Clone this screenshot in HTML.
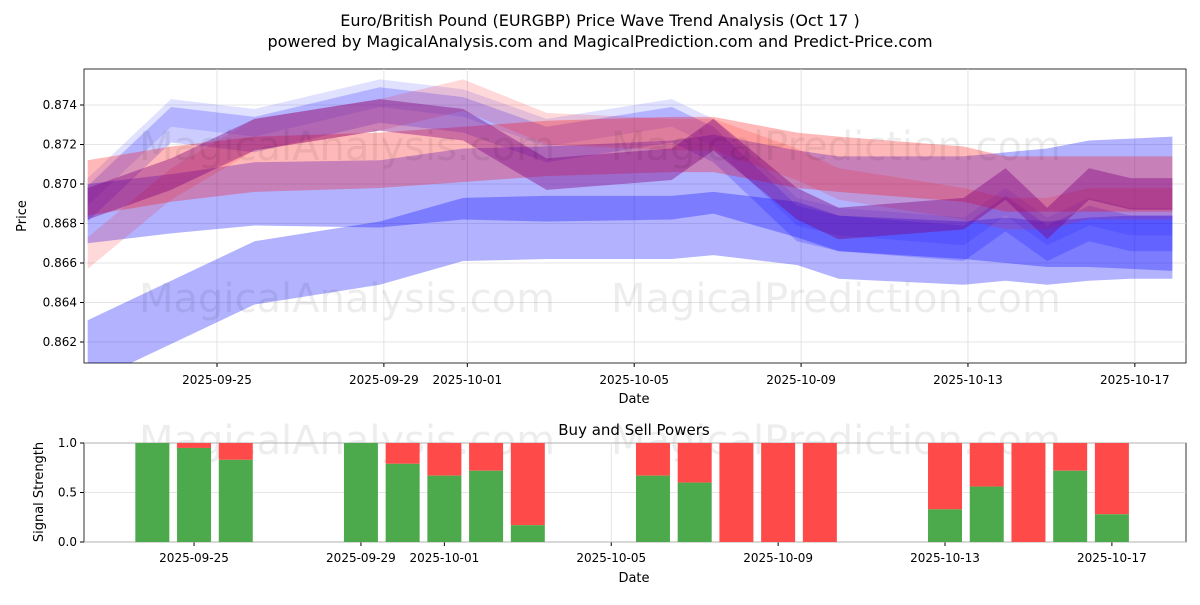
<!DOCTYPE html>
<html><head><meta charset="utf-8"><style>
body{margin:0;background:#fff;font-family:"Liberation Sans","DejaVu Sans",sans-serif}
svg text{font-family:"DejaVu Sans","Liberation Sans",sans-serif}
</style></head><body>
<svg id="c" width="1200" height="600" xmlns="http://www.w3.org/2000/svg">
<rect width="1200" height="600" fill="#fff"/>
<text x="600" y="26" text-anchor="middle" font-size="16">Euro/British Pound (EURGBP) Price Wave Trend Analysis (Oct 17 )</text>
<text x="600" y="47" text-anchor="middle" font-size="16">powered by MagicalAnalysis.com and MagicalPrediction.com and Predict-Price.com</text>
<g id="top"></g><g id="bot"></g>
</svg>
<script>
const NS="http://www.w3.org/2000/svg";
// ---- data ----
const bandDates=["2025-09-22","2025-09-24","2025-09-26","2025-09-29","2025-10-01","2025-10-03","2025-10-06","2025-10-07","2025-10-09","2025-10-10","2025-10-13","2025-10-14","2025-10-15","2025-10-16","2025-10-17","2025-10-18"];
const bandLow=[0.8615,0.8635,0.8655,0.8665,0.8677,0.8678,0.8678,0.868,0.8675,0.8668,0.8665,0.8667,0.8665,0.8667,0.8668,0.8668];
const bandWide=[0.8685,0.869,0.8695,0.8695,0.870,0.870,0.8702,0.8705,0.8695,0.869,0.8688,0.8688,0.8688,0.869,0.869,0.869];
const bandWideHalf=[0.0015,0.0015,0.0016,0.0017,0.0018,0.0019,0.002,0.002,0.0022,0.0024,0.0026,0.0028,0.003,0.0032,0.0033,0.0034];
const bandBlueWave=[0.869,0.873,0.8725,0.874,0.8735,0.872,0.873,0.872,0.868,0.8675,0.867,0.8685,0.867,0.868,0.8675,0.8675];
const bandRedBroad=[0.8698,0.8705,0.871,0.8712,0.8715,0.8718,0.872,0.872,0.8712,0.871,0.8705,0.870,0.870,0.870,0.870,0.870];
const bandRedWave=[0.8665,0.870,0.8725,0.8735,0.8745,0.8728,0.8725,0.8725,0.871,0.870,0.869,0.8685,0.8685,0.869,0.869,0.869];
const bandPurple=[0.869,0.8705,0.8725,0.8735,0.873,0.8705,0.871,0.8725,0.869,0.868,0.8685,0.870,0.868,0.870,0.8695,0.8695];
const barDates=["2025-09-24","2025-09-25","2025-09-26","2025-09-29","2025-09-30","2025-10-01","2025-10-02","2025-10-03","2025-10-06","2025-10-07","2025-10-08","2025-10-09","2025-10-10","2025-10-13","2025-10-14","2025-10-15","2025-10-16","2025-10-17"];
const buyVals=[1.0,0.95,0.83,1.0,0.79,0.67,0.72,0.17,0.67,0.6,0,0,0,0.33,0.56,0,0.72,0.28];
const xTicks=["2025-09-25","2025-09-29","2025-10-01","2025-10-05","2025-10-09","2025-10-13","2025-10-17"];
const yTicks=[0.862,0.864,0.866,0.868,0.870,0.872,0.874];
const sTicks=[0.0,0.5,1.0];
// ---- scales ----
const d0=Date.parse("2025-09-25");
const DAY=41.72;
const X=d=>217+(Date.parse(d)-d0)/864e5*DAY;
const XB=d=>X(d)-0.1*DAY;
const XBar=d=>X(d)-0.55*DAY;
const Y=v=>342-(v-0.862)/0.002*39.5;
const S=v=>542-v*99;
function el(t,a,p,name){const e=document.createElementNS(NS,t);for(const k in a)e.setAttribute(k,a[k]);


p.appendChild(e);return e;}
const topG=document.getElementById('top'),botG=document.getElementById('bot');
el('rect',{x:84,y:69,width:1102,height:294,fill:'none',stroke:'#000','stroke-width':0.8},topG,'price-axes');
el('rect',{x:84,y:443,width:1102,height:99,fill:'none',stroke:'#000','stroke-width':0.8},botG,'signal-axes');
const clip=el('clipPath',{id:'cp'},topG,'clip');el('rect',{x:84,y:69,width:1102,height:294},clip,'clip-rect');
const bg=el('g',{'clip-path':'url(#cp)'},topG,'bands');
xTicks.forEach(d=>{el('line',{x1:X(d),x2:X(d),y1:69,y2:363,stroke:'#ddd','stroke-width':0.8},bg,'grid-x');
el('line',{x1:XBar(d),x2:XBar(d),y1:443,y2:542,stroke:'#ddd','stroke-width':0.8},botG,'grid-x');});
yTicks.forEach(v=>{el('line',{x1:84,x2:1186,y1:Y(v),y2:Y(v),stroke:'#ddd','stroke-width':0.8},bg,'grid-y');});
function band(c,hw,col,op,name){let up=[],lo=[];bandDates.forEach((d,i)=>{const h=Array.isArray(hw)?hw[i]:hw;up.push(XB(d)+','+Y(c[i]+h));lo.unshift(XB(d)+','+Y(c[i]-h));});
el('polygon',{points:up.concat(lo).join(' '),fill:col,'fill-opacity':op},bg,name);}
band(bandLow,0.0016,'#0000ff',0.3,'band-blue-low');
band(bandWide,bandWideHalf,'#0000ff',0.3,'band-blue-wide');
band(bandBlueWave,0.0009,'#0000ff',0.2,'band-blue-wave');
band(bandBlueWave.map(v=>v+0.0006),0.0007,'#0000ff',0.12,'band-blue-wave-2');
band(bandRedBroad,0.0014,'#ff0000',0.28,'band-red-broad');
band(bandRedWave,0.0008,'#ff0000',0.15,'band-red-wave');
band(bandPurple,0.0008,'#ff0000',0.25,'band-purple-red');
band(bandPurple,0.0008,'#0000ff',0.2,'band-purple-blue');
[[347,160],[836,160],[347,312],[836,312],[347,454],[836,454]].forEach(p=>{const t=el('text',{x:p[0],y:p[1],'text-anchor':'middle','font-size':40,fill:'#000','fill-opacity':0.07},topG,'watermark');t.textContent=p[0]<600?'MagicalAnalysis.com':'MagicalPrediction.com';});
xTicks.forEach(d=>{el('line',{x1:X(d),x2:X(d),y1:363,y2:367,stroke:'#000'},topG,'x-tick');const t=el('text',{x:X(d),y:384,'text-anchor':'middle','font-size':12},topG,'x-tick-label');t.textContent=d;
el('line',{x1:XBar(d),x2:XBar(d),y1:542,y2:546,stroke:'#000'},botG,'x-tick');const t2=el('text',{x:XBar(d),y:562,'text-anchor':'middle','font-size':12},botG,'x-tick-label');t2.textContent=d;});
yTicks.forEach(v=>{el('line',{x1:80,x2:84,y1:Y(v),y2:Y(v),stroke:'#000'},topG,'y-tick');const t=el('text',{x:77,y:Y(v)+4,'text-anchor':'end','font-size':12},topG,'y-tick-label');t.textContent=v.toFixed(3);});
sTicks.forEach(v=>{el('line',{x1:80,x2:84,y1:S(v),y2:S(v),stroke:'#000'},botG,'y-tick');const t=el('text',{x:77,y:S(v)+4,'text-anchor':'end','font-size':12},botG,'y-tick-label');t.textContent=v.toFixed(1);
el('line',{x1:84,x2:1186,y1:S(v),y2:S(v),stroke:'#ddd','stroke-width':0.8},botG,'grid-y');});
let t=el('text',{x:634,y:403,'text-anchor':'middle','font-size':13},topG,'x-axis-title');t.textContent='Date';
t=el('text',{x:26,y:216,'text-anchor':'middle','font-size':13,transform:'rotate(-90 26 216)'},topG,'y-axis-title');t.textContent='Price';
t=el('text',{x:634,y:582,'text-anchor':'middle','font-size':13},botG,'x-axis-title');t.textContent='Date';
t=el('text',{x:43,y:492,'text-anchor':'middle','font-size':13,transform:'rotate(-90 43 492)'},botG,'y-axis-title');t.textContent='Signal Strength';
t=el('text',{x:634,y:435,'text-anchor':'middle','font-size':15},botG,'signal-title');t.textContent='Buy and Sell Powers';
barDates.forEach((d,i)=>{const x=XBar(d)-17,b=buyVals[i];
el('rect',{x:x,y:S(1),width:34,height:S(b)-S(1),fill:'#ff4a4a'},botG,'sell-bar');
el('rect',{x:x,y:S(b),width:34,height:S(0)-S(b),fill:'#4caa4c'},botG,'buy-bar');});
</script>
</body></html>
